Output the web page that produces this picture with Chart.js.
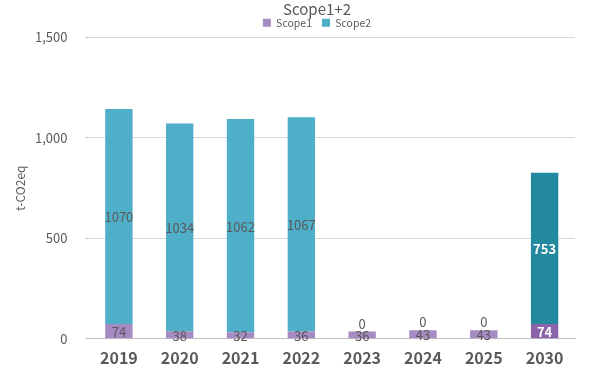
<!DOCTYPE html>
<html>
<head>
<meta charset="utf-8">
<script src="https://cdn.jsdelivr.net/npm/chart.js@4.4.0/dist/chart.umd.min.js"></script>
<style>
html,body{margin:0;padding:0;background:#fff;}
#wrap{width:593px;height:370px;}
</style>
</head>
<body>
<div id="wrap"><canvas id="c" width="593" height="370"></canvas></div>
<script>
const categories = ["2019","2020","2021","2022","2023","2024","2025","2030"];
const scope1 = [74, 38, 32, 36, 36, 43, 43, 74];
const scope2 = [1070, 1034, 1062, 1067, 0, 0, 0, 753];
const yTicks = [0, 500, 1000, 1500];
const yTitle = 't-CO2eq';

const FONT = "'Noto Sans CJK JP', 'Noto Sans', sans-serif";
const s1Colors = categories.map((c,i)=> i===categories.length-1 ? '#8a63aa' : '#a68bc3');
const s2Colors = categories.map((c,i)=> i===categories.length-1 ? '#22899f' : '#4fafc8');

const headerPlugin = {
  id: 'headerPos',
  afterInit(chart) {
    const lg = chart.legend;
    if (!lg) return;
    const f = lg.fit;
    lg.fit = function () { f.call(this); this.height -= 11; };
  },
  afterLayout(chart) {
    const dx = 21;
    const t = chart.titleBlock, lg = chart.legend;
    if (t) { t.left += dx; t.right += dx; }
    if (lg) {
      lg.left += dx; lg.right += dx;
      lg.top -= 10.5;
      lg.bottom = lg.top + 40;
      lg.height = 40;
    }
  }
};

const labelPlugin = {
  id: 'barLabels',
  afterDatasetsDraw(chart) {
    const ctx = chart.ctx;
    ctx.save();
    ctx.textAlign = 'center';
    ctx.textBaseline = 'middle';
    chart.data.datasets.forEach((ds, di) => {
      const meta = chart.getDatasetMeta(di);
      meta.data.forEach((el, i) => {
        const v = ds.data[i];
        const p = el.getProps(['x','y','base'], true);
        const last = i === categories.length - 1;
        let y = (p.y + p.base) / 2;
        if (v === 0) y = p.y - 9;
        ctx.font = (last ? 'bold ' : '') + '13px ' + FONT;
        ctx.fillStyle = last ? '#ffffff' : '#595959';
        ctx.fillText(String(v), p.x, y + 1);
      });
    });
    const area = chart.chartArea;
    ctx.translate(20, (area.top + area.bottom) / 2);
    ctx.rotate(-Math.PI / 2);
    ctx.font = '12px ' + FONT;
    ctx.fillStyle = '#595959';
    ctx.fillText(yTitle, 0, 0);
    ctx.restore();
  }
};

new Chart(document.getElementById('c'), {
  type: 'bar',
  data: {
    labels: categories,
    datasets: [
      { label: 'Scope1', data: scope1, backgroundColor: s1Colors, borderWidth: 0, barPercentage: 0.9, categoryPercentage: 0.5 },
      { label: 'Scope2', data: scope2, backgroundColor: s2Colors, borderWidth: 0, barPercentage: 0.9, categoryPercentage: 0.5 }
    ]
  },
  options: {
    responsive: false,
    animation: false,
    layout: { padding: { left: 17, right: 18, top: 0, bottom: -8 } },
    plugins: {
      title: { display: true, text: 'Scope1+2', color: '#595959', font: { family: FONT, size: 15, weight: 'normal' }, padding: { top: 0, bottom: 0 } },
      legend: { display: true, labels: { color: '#595959', font: { family: FONT, size: 10.5 }, boxWidth: 8, boxHeight: 8, padding: 10 },
        onClick: null },
      tooltip: { enabled: false }
    },
    scales: {
      x: {
        stacked: true,
        grid: { display: false, drawTicks: false },
        border: { display: true, color: '#bfbfbf', width: 1 },
        ticks: { color: '#595959', font: { family: FONT, size: 16, weight: 'bold' }, padding: 10 }
      },
      y: {
        stacked: true,
        min: 0, max: 1500,
        afterBuildTicks(axis) { axis.ticks = yTicks.map(v => ({ value: v })); },
        grid: { color: '#d9d9d9', tickColor: '#bfbfbf', tickLength: 3 },
        border: { display: false },
        ticks: { color: '#595959', font: { family: FONT, size: 13 }, padding: 18,
          callback: v => v.toLocaleString('en-US') }
      }
    }
  },
  plugins: [headerPlugin, labelPlugin]
});
</script>
</body>
</html>
